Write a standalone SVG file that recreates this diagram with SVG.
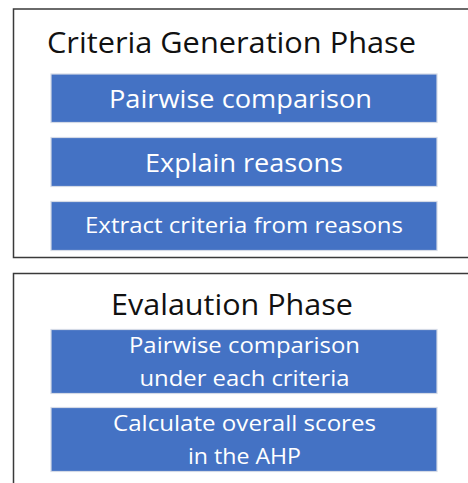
<svg xmlns="http://www.w3.org/2000/svg" width="468" height="483" viewBox="0 0 468 483">
<style>
.phase{fill:#ffffff;stroke:#3a3a3a;stroke-width:1.5}
.title{font-family:"Open Sans","Liberation Sans",sans-serif;font-size:30px;fill:#111111;text-anchor:middle}
.step{fill:#4472C4;stroke:#d4dae6;stroke-width:1.2}
.lbl{font-family:"Open Sans","Liberation Sans",sans-serif;fill:#ffffff;text-anchor:middle}
.big{font-size:26px}
.small{font-size:22.5px}
</style>
<rect width="468" height="483" fill="#ffffff"/>
<g id="phase-criteria">
<rect class="phase" x="13.5" y="9" width="470" height="248.5"/>
<text class="title" x="231.5" y="53" textLength="369" lengthAdjust="spacingAndGlyphs">Criteria Generation Phase</text>
</g>
<g id="phase-evaluation">
<rect class="phase" x="13.5" y="273.5" width="470" height="230"/>
<text class="title" x="232" y="315" textLength="242" lengthAdjust="spacingAndGlyphs">Evalaution Phase</text>
</g>
<g id="step-pairwise">
<rect class="step" x="51" y="74" width="386" height="48.5"/>
<text class="lbl big" x="240.5" y="107.5" textLength="263" lengthAdjust="spacingAndGlyphs">Pairwise comparison</text>
</g>
<g id="step-explain">
<rect class="step" x="51" y="137.5" width="386" height="49"/>
<text class="lbl big" x="244" y="171.5" textLength="198" lengthAdjust="spacingAndGlyphs">Explain reasons</text>
</g>
<g id="step-extract">
<rect class="step" x="51" y="201.5" width="386" height="49"/>
<text class="lbl small" x="244" y="233" textLength="318" lengthAdjust="spacingAndGlyphs">Extract criteria from reasons</text>
</g>
<g id="step-pairwise-criteria">
<rect class="step" x="51" y="329.5" width="386" height="64"/>
<text class="lbl small" x="244.5" y="353" textLength="231" lengthAdjust="spacingAndGlyphs">Pairwise comparison</text>
<text class="lbl small" x="244.5" y="385.5" textLength="210" lengthAdjust="spacingAndGlyphs">under each criteria</text>
</g>
<g id="step-ahp">
<rect class="step" x="51" y="407.5" width="386" height="64"/>
<text class="lbl small" x="244.5" y="431" textLength="263" lengthAdjust="spacingAndGlyphs">Calculate overall scores</text>
<text class="lbl small" x="244.5" y="463.5" textLength="113" lengthAdjust="spacingAndGlyphs">in the AHP</text>
</g>
<g id="connectors"></g>
</svg>
